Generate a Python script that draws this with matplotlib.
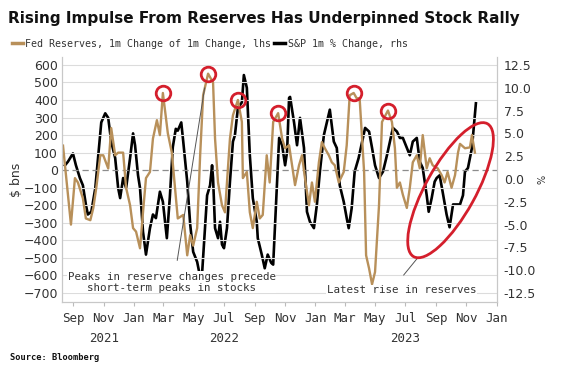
import matplotlib
matplotlib.use("Agg")
import matplotlib.pyplot as plt
import matplotlib.dates as mdates
import matplotlib.transforms as mtransforms
from matplotlib.patches import Ellipse
from matplotlib.lines import Line2D
import pandas as pd

# Fed reserves, 1m change of 1m change ($ bns, lhs)
res_dates = [
    "2021-08-11", "2021-08-27", "2021-09-04", "2021-09-10", "2021-09-20", "2021-09-26",
    "2021-10-05", "2021-10-11", "2021-10-17", "2021-10-25", "2021-10-31", "2021-11-10",
    "2021-11-16", "2021-11-24", "2021-11-30", "2021-12-10", "2021-12-16", "2021-12-24",
    "2021-12-30", "2022-01-05", "2022-01-13", "2022-01-19", "2022-01-25", "2022-02-02",
    "2022-02-08", "2022-02-16", "2022-02-22", "2022-02-28", "2022-03-10", "2022-03-18",
    "2022-03-30", "2022-04-10", "2022-04-18", "2022-04-24", "2022-04-30", "2022-05-08",
    "2022-05-14", "2022-05-20", "2022-05-30", "2022-06-09", "2022-06-13", "2022-06-19",
    "2022-06-27", "2022-07-03", "2022-07-07", "2022-07-13", "2022-07-19", "2022-07-29",
    "2022-08-06", "2022-08-08", "2022-08-16", "2022-08-22", "2022-08-28", "2022-09-05",
    "2022-09-11", "2022-09-17", "2022-09-25", "2022-10-01", "2022-10-08", "2022-10-18",
    "2022-10-26", "2022-11-01", "2022-11-09", "2022-11-15", "2022-11-21", "2022-11-29",
    "2022-12-05", "2022-12-11", "2022-12-19", "2022-12-25", "2022-12-31", "2023-01-08",
    "2023-01-14", "2023-01-20", "2023-01-28", "2023-02-03", "2023-02-09", "2023-02-17",
    "2023-02-27", "2023-03-05", "2023-03-11", "2023-03-19", "2023-03-25", "2023-03-31",
    "2023-04-09", "2023-04-13", "2023-04-19", "2023-04-25", "2023-05-01", "2023-05-09",
    "2023-05-15", "2023-05-27", "2023-06-04", "2023-06-10", "2023-06-14", "2023-06-20",
    "2023-06-26", "2023-07-04", "2023-07-10", "2023-07-16", "2023-07-24", "2023-07-30",
    "2023-08-05", "2023-08-13", "2023-08-19", "2023-08-25", "2023-09-04", "2023-09-12",
    "2023-09-18", "2023-09-24", "2023-10-02", "2023-10-09", "2023-10-15", "2023-10-19",
    "2023-10-29", "2023-11-08", "2023-11-12", "2023-11-18",
]
res_values = [
    140, -310, -45, -70, -160, -275,
    -285, -215, -100, 85, 85, 10,
    240, 85, 100, 100, -100, -200,
    -330, -350, -445, -240, -45, -10,
    180, 285, 200, 440, 210, 100,
    -275, -255, -485, -370, -430, -330,
    85, 427, 550, 500, 180, -70,
    -200, -240, -70, 180, 313, 400,
    275, -45, -10, -240, -330, -180,
    -275, -255, 85, -70, 275, 325,
    180, 125, 142, 28, -85, 28,
    85, -45, -200, -70, -180, 45,
    160, 125, 85, 45, 28, -70,
    -10, 142, 427, 440, 410, 410,
    -10, -485, -560, -650, -580, -200,
    275, 340, 275, 125, -100, -70,
    -140, -215, -100, 45, 85, 11,
    200, 11, 68, 28, 11, -28,
    -70, -10, -100, -28, 100, 150,
    125, 130, 200, 100,
]

# S&P 500, 1m % change (rhs)
spx_dates = [
    "2021-08-15", "2021-08-21", "2021-08-31", "2021-09-06", "2021-09-14", "2021-09-20",
    "2021-09-26", "2021-09-30", "2021-10-07", "2021-10-15", "2021-10-21", "2021-10-27",
    "2021-11-04", "2021-11-10", "2021-11-16", "2021-11-24", "2021-11-30", "2021-12-04",
    "2021-12-10", "2021-12-16", "2021-12-24", "2021-12-30", "2022-01-03", "2022-01-09",
    "2022-01-13", "2022-01-19", "2022-01-25", "2022-02-02", "2022-02-08", "2022-02-14",
    "2022-02-22", "2022-02-28", "2022-03-08", "2022-03-14", "2022-03-20", "2022-03-26",
    "2022-03-30", "2022-04-06", "2022-04-10", "2022-04-18", "2022-04-24", "2022-04-30",
    "2022-05-08", "2022-05-12", "2022-05-18", "2022-05-22", "2022-05-28", "2022-06-03",
    "2022-06-07", "2022-06-09", "2022-06-13", "2022-06-19", "2022-06-23", "2022-06-27",
    "2022-07-01", "2022-07-07", "2022-07-13", "2022-07-19", "2022-07-23", "2022-07-29",
    "2022-08-06", "2022-08-10", "2022-08-16", "2022-08-22", "2022-08-28", "2022-09-05",
    "2022-09-07", "2022-09-15", "2022-09-21", "2022-09-27", "2022-10-04", "2022-10-08",
    "2022-10-12", "2022-10-20", "2022-10-26", "2022-11-01", "2022-11-05", "2022-11-09",
    "2022-11-11", "2022-11-19", "2022-11-25", "2022-12-01", "2022-12-09", "2022-12-15",
    "2022-12-21", "2022-12-29", "2023-01-04", "2023-01-10", "2023-01-18", "2023-01-24",
    "2023-01-30", "2023-02-07", "2023-02-13", "2023-02-19", "2023-02-27", "2023-03-05",
    "2023-03-09", "2023-03-15", "2023-03-21", "2023-03-29", "2023-04-05", "2023-04-11",
    "2023-04-19", "2023-04-25", "2023-05-01", "2023-05-09", "2023-05-17", "2023-05-25",
    "2023-05-31", "2023-06-06", "2023-06-14", "2023-06-20", "2023-06-26", "2023-07-04",
    "2023-07-10", "2023-07-16", "2023-07-24", "2023-07-30", "2023-08-05", "2023-08-13",
    "2023-08-17", "2023-08-23", "2023-08-29", "2023-09-02", "2023-09-08", "2023-09-14",
    "2023-09-22", "2023-09-28", "2023-10-05", "2023-10-13", "2023-10-19", "2023-10-25",
    "2023-10-29", "2023-11-04", "2023-11-12", "2023-11-20",
]
spx_values = [
    1.5, 1.9, 2.8, 1.5, 0.1, -0.7,
    -2.8, -3.9, -3.6, -1.0, 2.6, 6.2,
    7.2, 6.7, 4.1, 2.3, -1.0, -2.1,
    0.1, -1.0, 2.3, 5.0, 3.7, 0.4,
    -1.0, -5.8, -8.3, -5.4, -3.9, -4.3,
    -1.4, -2.5, -6.5, -2.0, 3.5, 5.5,
    5.3, 6.2, 4.1, -0.3, -5.0, -8.0,
    -9.1, -10.2, -10.3, -6.9, -1.8, -0.7,
    1.5, 0.1, -5.4, -6.5, -4.7, -7.2,
    -7.6, -5.4, -0.3, 4.1, 4.8, 7.8,
    8.4, 11.4, 10.0, 2.6, -2.1, -4.7,
    -6.5, -8.3, -9.8, -8.3, -9.2, -9.4,
    -4.7, 4.5, 3.7, 1.5, 3.0, 8.9,
    9.0, 6.2, 3.7, 6.7, 3.4, -3.6,
    -4.7, -5.4, -2.8, 0.8, 4.8, 6.2,
    7.6, 4.1, 3.4, -0.7, -2.5, -4.3,
    -5.4, -3.2, 0.8, 2.3, 4.1, 5.6,
    5.2, 3.4, 1.5, 0.1, 0.8, 2.6,
    4.1, 5.6, 5.2, 4.5, 4.5, 3.4,
    2.6, 4.1, 4.5, 1.9, 1.2, -1.8,
    -3.6, -2.1, -0.3, 0.1, 0.4, -1.4,
    -3.9, -5.3, -2.8, -2.8, -2.8, -1.8,
    0.8, 1.2, 3.4, 8.3,
]

# reserve-change peaks that are circled
peak_dates = ["2022-02-28", "2022-05-30", "2022-07-29", "2022-10-18", "2023-03-19", "2023-05-27"]

year_labels = ["2021", "2022", "2023"]
year_label_dates = ["2021-11-01", "2022-07-01", "2023-07-01"]

tan = "#b8905a"
red = "#d41f2c"
grey_txt = "#333333"
mono = "DejaVu Sans Mono"

res = pd.Series(res_values, index=pd.to_datetime(res_dates))
spx = pd.Series(spx_values, index=pd.to_datetime(spx_dates))

fig = plt.figure(figsize=(5.71, 3.75), dpi=100)
ax = fig.add_axes([0.1086, 0.1947, 0.7614, 0.6533])
ax2 = ax.twinx()

ax.set_zorder(2)
ax2.set_zorder(1)
ax.patch.set_visible(False)

# grid
for v in range(-700, 700, 100):
    if v == 0:
        ax.axhline(0, color="#8c8c8c", lw=0.9, ls=(0, (5, 3)), zorder=0)
    else:
        ax.axhline(v, color="#dcdcdc", lw=0.8, zorder=0)

ax.plot(res.index, res.values, color=tan, lw=1.7, zorder=2)
ax2.plot(spx.index, spx.values, color="black", lw=1.9, zorder=3)

ax.set_ylim(-751, 645)
ax2.set_ylim(-13.5, 13.38)
ax.set_xlim(pd.Timestamp("2021-08-09"), pd.Timestamp("2024-01-01"))

ax.set_yticks(range(-700, 700, 100))
ax2.set_yticks([-12.5, -10, -7.5, -5, -2.5, 0, 2.5, 5, 7.5, 10, 12.5])
ax2.yaxis.set_major_formatter(matplotlib.ticker.FormatStrFormatter("%.1f"))

ax.tick_params(axis="y", length=0, pad=3, labelsize=9, labelcolor=grey_txt)
ax2.tick_params(axis="y", length=0, pad=5, labelsize=9, labelcolor=grey_txt)

ax.xaxis.set_major_locator(mdates.MonthLocator(bymonth=[1, 3, 5, 7, 9, 11]))
ax.xaxis.set_major_formatter(mdates.DateFormatter("%b"))
ax.tick_params(axis="x", length=3, color="#bbbbbb", pad=4, labelsize=9, labelcolor=grey_txt)
for lab in ax.get_xticklabels():
    lab.set_family(mono)

for a in (ax, ax2):
    a.spines["top"].set_visible(False)
    for s in ("left", "right", "bottom"):
        a.spines[s].set_color("#c8c8c8")
        a.spines[s].set_linewidth(0.8)

for yl, yd in zip(year_labels, year_label_dates):
    ax.text(pd.Timestamp(yd), -0.148, yl, transform=ax.get_xaxis_transform(),
            ha="center", va="center", fontsize=9, family=mono, color=grey_txt)

ax.set_ylabel("$ bns", fontsize=9, color=grey_txt, labelpad=0)
ax2.set_ylabel("%", fontsize=7, color=grey_txt, rotation=90, labelpad=1)

# circles on peaks
pk = pd.to_datetime(peak_dates)
ax.plot(pk, res.loc[pk].values, "o", mfc="none", mec=red, mew=2, ms=10.5, zorder=5)

# ellipse round the latest rise
trans = fig.dpi_scale_trans + mtransforms.ScaledTranslation(
    mdates.date2num(pd.Timestamp("2023-09-30")), -114, ax.transData)
ax.add_patch(Ellipse((0, 0), 1.52, 0.5, angle=61, transform=trans,
                     fill=False, ec=red, lw=2, zorder=5))

# annotations
ax.annotate("", xy=(pd.Timestamp("2022-05-24"), 485), xytext=(pd.Timestamp("2022-03-28"), -530),
            arrowprops=dict(arrowstyle="-", color="#555555", lw=0.7), zorder=4)
ax.text(pd.Timestamp("2022-03-18"), -638, "Peaks in reserve changes precede\nshort-term peaks in stocks",
        ha="center", va="center", fontsize=7.8, family=mono, color=grey_txt, linespacing=1.15,
        bbox=dict(fc="white", ec="none", pad=0.5), zorder=6)

ax.annotate("", xy=(pd.Timestamp("2023-07-30"), -485), xytext=(pd.Timestamp("2023-06-24"), -610),
            arrowprops=dict(arrowstyle="-", color="#555555", lw=0.7), zorder=4)
ax.text(pd.Timestamp("2023-06-24"), -684, "Latest rise in reserves",
        ha="center", va="center", fontsize=7.8, family=mono, color=grey_txt,
        bbox=dict(fc="white", ec="none", pad=0.5), zorder=6)

# title, legend, source
fig.text(0.014, 0.952, "Rising Impulse From Reserves Has Underpinned Stock Rally",
         fontsize=11, fontweight="bold", va="center", ha="left", color="#111111")

handles = [Line2D([], [], color=tan, lw=2.5), Line2D([], [], color="black", lw=2.5)]
fig.legend(handles, ["Fed Reserves, 1m Change of 1m Change, lhs", "S&P 1m % Change, rhs"],
           loc="center left", bbox_to_anchor=(0.005, 0.883), ncol=2, frameon=False,
           handlelength=1.1, handletextpad=0.25, columnspacing=0.3,
           prop={"family": mono, "size": 7.2}, labelcolor=grey_txt)

fig.text(0.017, 0.048, "Source: Bloomberg", fontsize=6.3, fontweight="bold", family=mono,
         va="center", ha="left", color="#111111")

fig.savefig("out.png", dpi=100)
